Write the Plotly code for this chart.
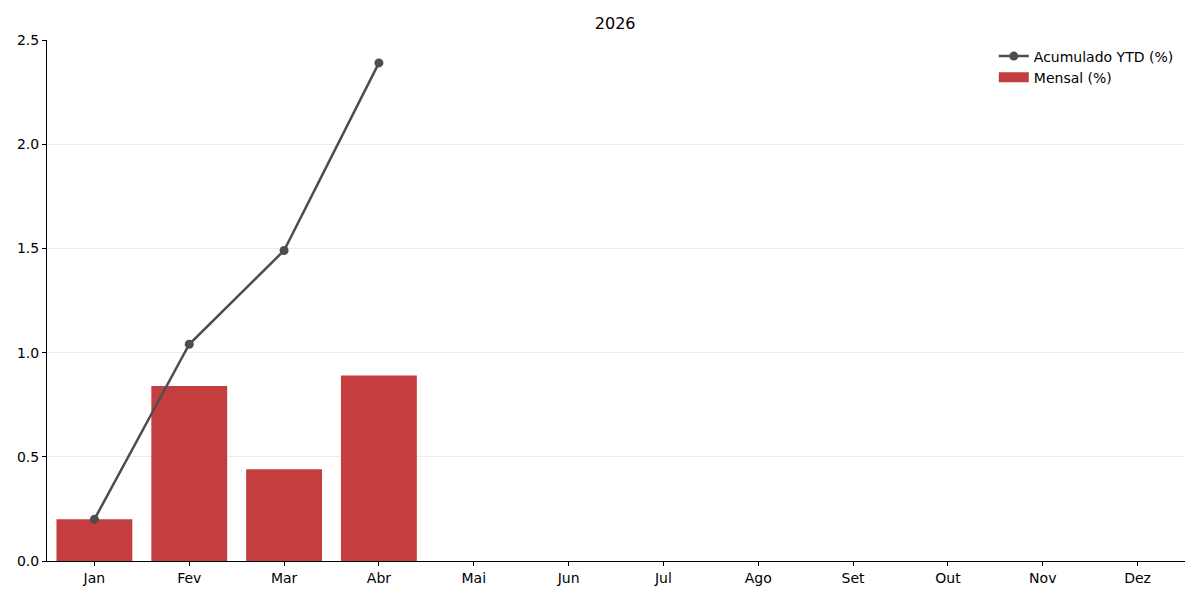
import plotly.graph_objects as go

meses = ['Jan', 'Fev', 'Mar', 'Abr', 'Mai', 'Jun', 'Jul', 'Ago', 'Set', 'Out', 'Nov', 'Dez']
mensal = [0.20, 0.84, 0.44, 0.89, 0, 0, 0, 0, 0, 0, 0, 0]
acumulado = [0.20, 1.04, 1.49, 2.39]
titulo = '2026'

cor_barra = '#c43e3f'
cor_linha = '#4d4d4d'

fig = go.Figure()
fig.add_trace(go.Bar(
    x=meses, y=mensal, name='Mensal (%)',
    marker=dict(color=cor_barra, line=dict(width=0)),
    width=0.8, showlegend=False,
))
fig.add_trace(go.Scatter(
    x=meses[:len(acumulado)], y=acumulado, name='Acumulado YTD (%)',
    mode='lines+markers',
    line=dict(color=cor_linha, width=2.5),
    marker=dict(color=cor_linha, size=9),
))
# entrada de legenda retangular para as barras (como no matplotlib)
fig.add_trace(go.Scatter(
    x=[None], y=[None], name='Mensal (%)', mode='lines',
    line=dict(color=cor_barra, width=10),
))

fig.update_layout(
    width=1200, height=600,
    margin=dict(l=39, r=23, t=32, b=47),
    paper_bgcolor='white', plot_bgcolor='white',
    font=dict(family='DejaVu Sans', size=14, color='black'),
    title=dict(text=titulo, x=0.506, xanchor='center', y=0.975, yanchor='middle',
               font=dict(size=16)),
    showlegend=True,
    legend=dict(x=0.832, xanchor='left', y=0.999, yanchor='top',
                bgcolor='rgba(0,0,0,0)', tracegroupgap=0,
                font=dict(size=14)),
    bargap=0.2,
)
fig.update_xaxes(
    range=[-0.5, 11.5], showline=True, linecolor='black', linewidth=1,
    ticks='outside', ticklen=4, tickcolor='black', showgrid=False,
    automargin=False,
)
fig.update_yaxes(
    range=[0, 2.5], dtick=0.5, tickformat='.1f',
    showline=True, linecolor='black', linewidth=1,
    ticks='outside', ticklen=4, tickcolor='black',
    showgrid=True, gridcolor='#ececec', gridwidth=1, zeroline=False,
    automargin=False,
)

fig.write_html('out.html')
